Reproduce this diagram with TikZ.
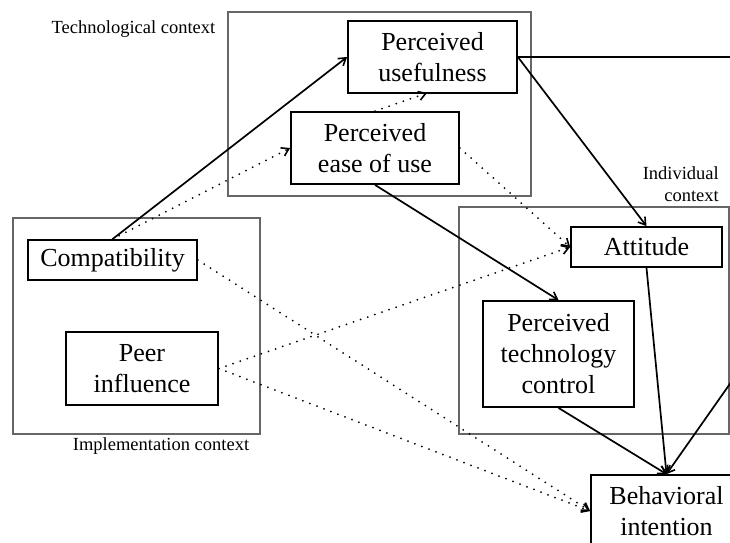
\documentclass[tikz,border=0pt]{standalone}
\usepackage{fontspec}
\setmainfont{Liberation Serif}
\usetikzlibrary{arrows.meta}
\begin{document}
\begin{tikzpicture}[x=1pt,y=-1pt,
  construct/.style={draw,line width=1.8pt,align=center,inner sep=0pt,
    font=\fontsize{26}{31}\selectfont},
  context/.style={draw=black!60,line width=1.3pt},
  ctxlabel/.style={font=\fontsize{18.5}{22}\selectfont,inner sep=0pt},
  tip/.style={-{Straight Barb[length=7pt,width=9pt,line width=1.6pt]}},
  solidarrow/.style={line width=1.7pt,tip},
  dotarrow/.style={line width=2pt,line cap=round,dash pattern=on 0pt off 7.5pt,tip}]
\useasboundingbox (0,0) rectangle (730,542);
\begin{scope}
\clip (0,0) rectangle (730,542);

% context frames
\draw[context] (228,12) rectangle (531,196);
\draw[context] (13,218) rectangle (260,434);
\draw[context] (459,207) rectangle (729,434);

\node[ctxlabel] (techlbl) at (133.5,29) {Technological context};
\node[ctxlabel,align=right,anchor=north east] (indlbl) at (719,166) {Individual\\context};
\node[ctxlabel] (impllbl) at (161,446) {Implementation context};

% constructs
\node[construct,fill=white,minimum width=169pt,minimum height=72pt] (pu) at (432.5,57) {Perceived\\usefulness};
\node[construct,fill=white,minimum width=168pt,minimum height=72pt] (peou) at (375,148) {Perceived\\ease of use};
\node[construct,minimum width=169pt,minimum height=40pt] (comp) at (112.5,260) {Compatibility};
\node[construct,minimum width=152pt,minimum height=73pt] (peer) at (142,368.5) {Peer\\influence};
\node[construct,minimum width=151pt,minimum height=40pt] (att) at (646.5,247) {Attitude};
\node[construct,minimum width=151pt,minimum height=106pt] (ptc) at (558.5,354) {Perceived\\technology\\control};
\node[construct,minimum width=151pt,minimum height=72pt] (bi) at (666.5,511) {Behavioral\\intention};

% route of the usefulness path past the right edge
\coordinate (ru) at (760,57);
\coordinate (rd) at (760,341);

% paths
\draw[solidarrow] (comp.north) -- (pu.west);
\draw[dotarrow] (comp.north) -- (peou.west);
\draw[dotarrow] (peou.north) -- (427,93);
\draw[solidarrow] (pu.east) -- (att.north);
\draw[dotarrow] (peou.east) -- (att.west);
\draw[solidarrow] (peou.south) -- (ptc.north);
\draw[dotarrow] (peer.east) -- (att.west);
\draw[dotarrow] (comp.east) -- (bi.west);
\draw[dotarrow] (peer.east) -- (bi.west);
\draw[solidarrow] (att.south) -- (bi.north);
\draw[solidarrow] (ptc.south) -- (bi.north);
\draw[solidarrow] (pu.east) -- (ru) -- (rd) -- (bi.north);
\end{scope}
\end{tikzpicture}
\end{document}
